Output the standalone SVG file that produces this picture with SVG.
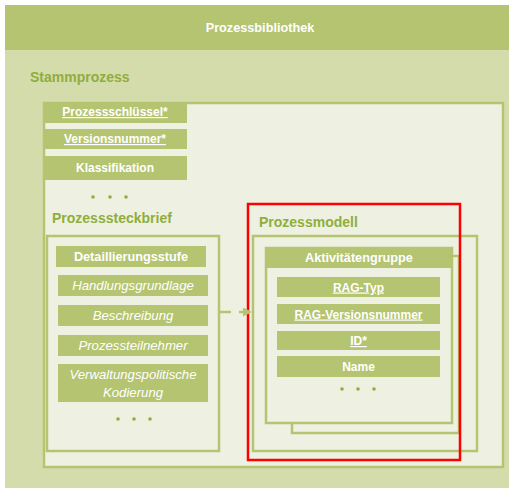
<svg xmlns="http://www.w3.org/2000/svg" width="509" height="488" viewBox="0 0 509 488">
<defs>
<style>
.hdr{fill:#b5c470}
.frame{fill:#eef1e2;stroke:#b5c470;stroke-width:2.5}
.t{font-family:"Liberation Sans",Arial,sans-serif;fill:#ffffff;text-anchor:middle}
.b{font-weight:bold;font-size:12px}
.bl{font-weight:bold;font-size:12.7px}
.i{font-style:italic;font-size:13.2px}
.u{text-decoration:underline}
.g{font-family:"Liberation Sans",Arial,sans-serif;font-weight:bold;fill:#8fae3b;font-size:14px}
.dot{fill:#8fae3b}
</style>
<marker id="ah" viewBox="0 0 10 10" refX="10" refY="5" markerWidth="13" markerHeight="9" markerUnits="userSpaceOnUse" orient="auto">
<path d="M0,0 L10,5 L0,10 Z" fill="#b5c470"/>
</marker>
</defs>
<rect x="0" y="0" width="509" height="488" fill="#ffffff"/>
<g id="prozessbibliothek">
<rect x="5" y="5" width="504" height="483" fill="#d5dcac"/>
<rect x="5" y="5" width="504" height="45" class="hdr"/>
<text x="260" y="32" class="t bl">Prozessbibliothek</text>
</g>
<g id="stammprozess">
<text x="30" y="82" class="g">Stammprozess</text>
<rect x="44" y="103" width="459" height="364" class="frame"/>
<rect x="43" y="102" width="144" height="21" class="hdr"/>
<text x="115" y="116" class="t b u">Prozessschlüssel*</text>
<rect x="43" y="129" width="144" height="20" class="hdr"/>
<text x="115" y="143" class="t b u">Versionsnummer*</text>
<rect x="43" y="156" width="144" height="24" class="hdr"/>
<text x="115" y="172" class="t b">Klassifikation</text>
<circle cx="93" cy="197" r="1.8" class="dot"/>
<circle cx="110" cy="197" r="1.8" class="dot"/>
<circle cx="126" cy="197" r="1.8" class="dot"/>
</g>
<g id="prozesssteckbrief">
<text x="52" y="223" class="g">Prozesssteckbrief</text>
<rect x="47" y="236" width="172" height="215" class="frame"/>
<rect x="56" y="246" width="150" height="21" class="hdr"/>
<text x="131" y="260.5" class="t bl">Detaillierungsstufe</text>
<rect x="58" y="275" width="150" height="21" class="hdr"/>
<text x="133" y="290" class="t i">Handlungsgrundlage</text>
<rect x="58" y="305" width="150" height="21" class="hdr"/>
<text x="133" y="320" class="t i">Beschreibung</text>
<rect x="58" y="335" width="150" height="21" class="hdr"/>
<text x="133" y="350" class="t i">Prozessteilnehmer</text>
<rect x="58" y="364" width="150" height="38" class="hdr"/>
<text x="133" y="378.5" class="t i">Verwaltungspolitische</text>
<text x="133" y="397" class="t i">Kodierung</text>
<circle cx="118" cy="419" r="1.8" class="dot"/>
<circle cx="134" cy="419" r="1.8" class="dot"/>
<circle cx="150" cy="419" r="1.8" class="dot"/>
</g>
<g id="prozessmodell">
<text x="259" y="227" class="g">Prozessmodell</text>
<rect x="253" y="236" width="224" height="215" class="frame"/>
<rect x="292" y="256" width="167" height="177" class="frame"/>
<rect x="266" y="248" width="186" height="175" class="frame"/>
<rect x="265" y="247" width="188" height="21" class="hdr"/>
<text x="359" y="262" class="t bl">Aktivitätengruppe</text>
<rect x="277" y="277" width="163" height="20" class="hdr"/>
<text x="358.5" y="291.5" class="t b u">RAG-Typ</text>
<rect x="277" y="304" width="163" height="20" class="hdr"/>
<text x="358.5" y="318.5" class="t b u">RAG-Versionsnummer</text>
<rect x="277" y="331" width="163" height="19" class="hdr"/>
<text x="358.5" y="345" class="t b u">ID*</text>
<rect x="277" y="356" width="163" height="21" class="hdr"/>
<text x="358.5" y="371" class="t b">Name</text>
<circle cx="342" cy="389" r="1.8" class="dot"/>
<circle cx="358" cy="389" r="1.8" class="dot"/>
<circle cx="374" cy="389" r="1.8" class="dot"/>
<rect x="248" y="204" width="212" height="256" fill="none" stroke="#ff0000" stroke-width="2.5"/>
</g>
<g id="connectors">
<line x1="220" y1="312" x2="252" y2="312" stroke="#b5c470" stroke-width="2.5" stroke-dasharray="11,8" marker-end="url(#ah)"/>
</g>
</svg>
